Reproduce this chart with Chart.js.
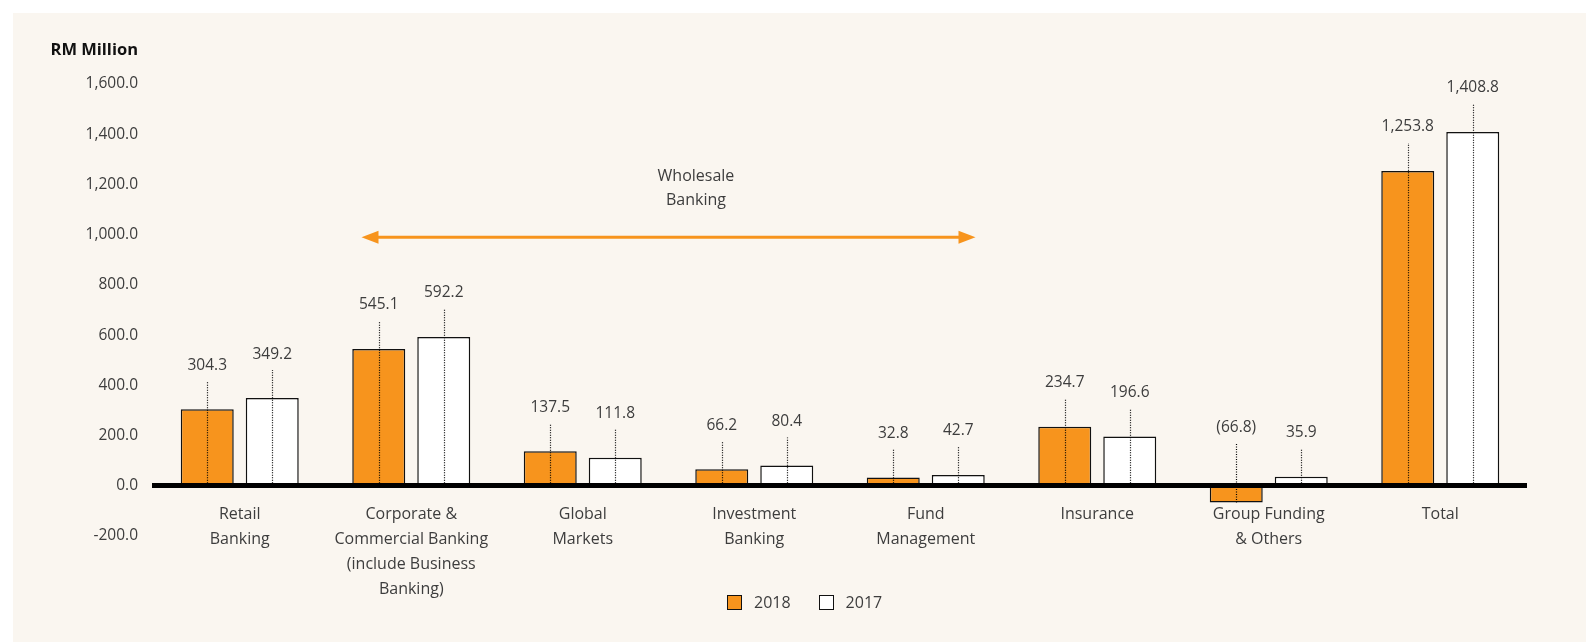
<!DOCTYPE html>
<html>
<head>
<meta charset="utf-8">
<script src="https://cdn.jsdelivr.net/npm/chart.js@4/dist/chart.umd.min.js"></script>
<style>
  html, body { margin: 0; padding: 0; background: #fff; }
  #wrap { position: relative; width: 1586px; height: 642px; overflow: hidden; }
  #panel { position: absolute; left: 13px; top: 13px; right: 0; bottom: 0; background: #faf6f0; }
  #chart { position: absolute; left: 0; top: 0; }
  #legend { position: absolute; top: 591px; left: 727px; font: 400 16px 'Open Sans', sans-serif; color: #3d3d3d; display: flex; align-items: center; }
  #legend .box { width: 13px; height: 13px; border: 1.5px solid #111; display: inline-block; margin-right: 12px; }
  #legend .item { display: flex; align-items: center; margin-right: 28px; }
</style>
</head>
<body>
<div id="wrap">
  <div id="panel"></div>
  <canvas id="chart" width="1586" height="642"></canvas>
  <div id="legend"></div>
</div>
<script>
// segment categories and profit values (RM Million)
const categories = [
  ['Retail', 'Banking'],
  ['Corporate &', 'Commercial Banking', '(include Business', 'Banking)'],
  ['Global', 'Markets'],
  ['Investment', 'Banking'],
  ['Fund', 'Management'],
  ['Insurance'],
  ['Group Funding', '& Others'],
  ['Total']
];
const values2018 = [304.3, 545.1, 137.5, 66.2, 32.8, 234.7, -66.8, 1253.8];
const values2017 = [349.2, 592.2, 111.8, 80.4, 42.7, 196.6, 35.9, 1408.8];
const seriesNames = ['2018', '2017'];
const yTicks = [-200, 0, 200, 400, 600, 800, 1000, 1200, 1400, 1600];
const wholesaleSpan = [1, 4];          // Corporate .. Fund Management
const wholesaleLabel = ['Wholesale', 'Banking'];

const ORANGE = '#f7941d';
const TEXT = '#3d3d3d';
const FONT = "'Open Sans', sans-serif";

function fmt(v) {
  const s = Math.abs(v).toLocaleString('en-US', { minimumFractionDigits: 1, maximumFractionDigits: 1 });
  return v < 0 ? '(' + s + ')' : s;
}

// value labels with dotted leader lines
const valueLabels = {
  id: 'valueLabels',
  afterDatasetsDraw(chart) {
    const ctx = chart.ctx;
    const zero = chart.scales.y.getPixelForValue(0);
    ctx.save();
    ctx.font = '400 15.5px ' + FONT;
    ctx.fillStyle = TEXT;
    ctx.textAlign = 'center';
    ctx.textBaseline = 'middle';
    chart.data.datasets.forEach((ds, di) => {
      chart.getDatasetMeta(di).data.forEach((bar, i) => {
        const v = ds.data[i];
        const top = v < 0 ? zero - 42 : bar.y - 28;
        const bottom = v < 0 ? bar.y : zero;
        ctx.beginPath();
        ctx.setLineDash([1, 1.5]);
        ctx.lineWidth = 1.2;
        ctx.strokeStyle = '#000';
        ctx.moveTo(Math.round(bar.x) + 0.5, bottom);
        ctx.lineTo(Math.round(bar.x) + 0.5, top);
        ctx.stroke();
        ctx.fillText(fmt(v), bar.x, top - 16);
      });
    });
    ctx.restore();
  }
};

// "Wholesale Banking" double arrow and axis unit label
const annotations = {
  id: 'annotations',
  afterDraw(chart) {
    const ctx = chart.ctx;
    const x = chart.scales.x, y = chart.scales.y;
    const cw = x.getPixelForValue(1) - x.getPixelForValue(0);
    const x1 = x.getPixelForValue(wholesaleSpan[0]) - 0.29 * cw;
    const x2 = x.getPixelForValue(wholesaleSpan[1]) + 0.29 * cw;
    const ya = y.getPixelForValue(990);
    ctx.save();
    ctx.strokeStyle = ORANGE;
    ctx.fillStyle = ORANGE;
    ctx.lineWidth = 3;
    ctx.beginPath();
    ctx.moveTo(x1 + 10, ya);
    ctx.lineTo(x2 - 10, ya);
    ctx.stroke();
    [[x1, 1], [x2, -1]].forEach(([px, d]) => {
      ctx.beginPath();
      ctx.moveTo(px, ya);
      ctx.lineTo(px + d * 17, ya - 6.5);
      ctx.lineTo(px + d * 17, ya + 6.5);
      ctx.closePath();
      ctx.fill();
    });
    ctx.fillStyle = TEXT;
    ctx.font = '400 16px ' + FONT;
    ctx.textAlign = 'center';
    ctx.textBaseline = 'middle';
    const tx = x.getPixelForValue(2.66);
    ctx.fillText(wholesaleLabel[0], tx, y.getPixelForValue(1230));
    ctx.fillText(wholesaleLabel[1], tx, y.getPixelForValue(1135));
    // unit label
    ctx.font = 'bold 16.5px ' + FONT;
    ctx.fillStyle = '#111';
    ctx.textAlign = 'right';
    ctx.fillText('RM Million', y.right - 16, 50);
    ctx.restore();
  }
};

const chart = new Chart(document.getElementById('chart'), {
  type: 'bar',
  data: {
    labels: categories,
    datasets: [
      { label: seriesNames[0], data: values2018, backgroundColor: ORANGE, borderColor: '#111', borderWidth: 1.5, borderSkipped: false },
      { label: seriesNames[1], data: values2017, backgroundColor: '#ffffff', borderColor: '#111', borderWidth: 1.5, borderSkipped: false }
    ]
  },
  options: {
    responsive: false,
    animation: false,
    categoryPercentage: 0.758,
    barPercentage: 0.815,
    layout: { padding: { left: 13, right: 60, top: 84, bottom: 106 } },
    plugins: { legend: { display: false }, tooltip: { enabled: false } },
    scales: {
      x: {
        position: { y: 0 },
        grid: { display: false, drawTicks: false },
        border: { display: true, color: '#000', width: 5, z: 1 },
        ticks: { padding: 16, color: TEXT, font: { family: FONT, size: 16, weight: 400, lineHeight: 1.56 }, maxRotation: 0, autoSkip: false },
        afterFit(s) { s.height = 0; }
      },
      y: {
        min: -200, max: 1600,
        grid: { display: false, drawTicks: false },
        border: { display: false },
        afterBuildTicks(s) { s.ticks = yTicks.map(v => ({ value: v })); },
        ticks: { padding: 16, color: TEXT, font: { family: FONT, size: 15.5, weight: 400 }, callback: v => v.toLocaleString('en-US', { minimumFractionDigits: 1, maximumFractionDigits: 1 }) },
        afterFit(s) { s.width = 141; }
      }
    }
  },
  plugins: [valueLabels, annotations]
});

// legend
const legend = document.getElementById('legend');
chart.data.datasets.forEach(ds => {
  const item = document.createElement('span');
  item.className = 'item';
  item.innerHTML = `<span class="box" style="background:${ds.backgroundColor}"></span>${ds.label}`;
  legend.appendChild(item);
});
</script>
</body>
</html>
